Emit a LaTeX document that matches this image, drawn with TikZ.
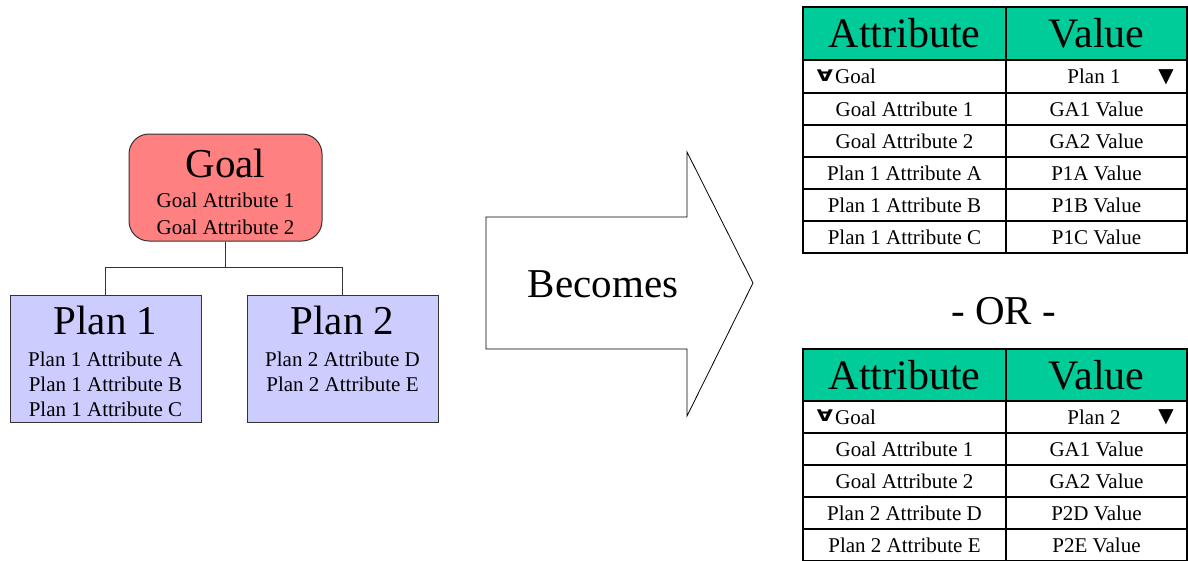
\documentclass[tikz,border=0pt]{standalone}
\usepackage{fontspec}
\setmainfont{Liberation Serif}
\newfontfamily\symfont{DejaVu Sans}
\definecolor{goalred}{RGB}{255,128,128}
\definecolor{planblue}{RGB}{204,204,255}
\definecolor{headgreen}{RGB}{0,204,153}
\tikzstyle{box}=[draw=black!80, line width=1pt, inner sep=0pt]
\tikzstyle{goalbox}=[box, fill=goalred, rounded corners=20pt, minimum width=193pt, minimum height=107pt]
\tikzstyle{planbox}=[box, fill=planblue, minimum width=191pt, minimum height=127pt]
\tikzstyle{big}=[inner sep=0pt, font=\fontsize{41}{41}\selectfont]
\tikzstyle{small}=[inner sep=0pt, font=\fontsize{21}{21}\selectfont]
\tikzstyle{cell}=[draw, line width=1.6pt, inner sep=0pt, minimum height=32pt, font=\fontsize{21}{21}\selectfont]
\tikzstyle{acell}=[cell, minimum width=203pt]
\tikzstyle{vcell}=[cell, minimum width=181pt]
\tikzstyle{headcell}=[fill=headgreen, minimum height=53pt, font=\fontsize{42}{42}\selectfont]
\tikzstyle{pick}=[inner sep=0pt, font=\fontsize{20}{20}\selectfont\symfont]
\tikzstyle{fold}=[inner sep=0pt, font=\fontsize{16}{16}\selectfont\symfont\bfseries]

\begin{document}
\begin{tikzpicture}[x=1pt, y=-1pt]
    \useasboundingbox (0,0) rectangle (1188,560);
    % tree
    \node[goalbox] (goal) at (225.5, 187.5) {};
    \node[big] (goaltitle) at (225.5, 163) {Goal};
    \node[small] (goala1) at (225.5, 200) {Goal Attribute 1};
    \node[small] (goala2) at (225.5, 227) {Goal Attribute 2};
    \node[planbox] (plan1) at (105.5, 358.5) {};
    \node[big] (plan1title) at (105.5, 320.5) {Plan 1};
    \node[small] (plan1a) at (105.5, 359.5) {Plan 1 Attribute A};
    \node[small] (plan1b) at (105.5, 384.5) {Plan 1 Attribute B};
    \node[small] (plan1c) at (105.5, 409.5) {Plan 1 Attribute C};
    \node[planbox] (plan2) at (342.5, 358.5) {};
    \node[big] (plan2title) at (342.5, 320.5) {Plan 2};
    \node[small] (plan2d) at (342.5, 359.5) {Plan 2 Attribute D};
    \node[small] (plan2e) at (342.5, 384.5) {Plan 2 Attribute E};
    \draw[black!80, line width=1pt] (goal.south) -- ++(0, 26) -| (plan1.north);
    \draw[black!80, line width=1pt] (goal.south) -- ++(0, 26) -| (plan2.north);
    % arrow
    \draw[line width=0.8pt] (486, 217) -- (687, 217) -- (687, 152) -- (753, 283)
        -- (687, 416) -- (687, 349) -- (486, 349) -- cycle;
    \node[big] (becomes) at (603, 284) {Becomes};
    % first table
    \node[acell, headcell] (t1head) at (904.5, 33.5) {Attribute};
    \node[vcell, headcell] (t1headv) at (1096.5, 33.5) {Value};
    \node[acell, minimum height=33pt] (t1goal) at (904.5, 76.5) {};
    \node[vcell, minimum height=33pt] (t1goalv) at (1096.5, 76.5) {};
    \node[fold] (t1fold) at (825, 75.5) {\scalebox{1.3}[1]{∀}};
    \node[small, anchor=west] (t1goaltext) at (835, 76.5) {Goal};
    \node[small] (t1plan) at (1094, 76.5) {Plan 1};
    \node[pick] (t1pick) at (1166, 77.5) {▼};
    \foreach \row/\attr/\val in {0/Goal Attribute 1/GA1 Value, 1/Goal Attribute 2/GA2 Value,
        2/Plan 1 Attribute A/P1A Value, 3/Plan 1 Attribute B/P1B Value, 4/Plan 1 Attribute C/P1C Value} {
        \node[acell] (t1a\row) at (904.5, {109+32*\row}) {\attr};
        \node[vcell] (t1v\row) at (1096.5, {109+32*\row}) {\val};
    }
    \node[big] (or) at (1003.5, 311) {- OR -};
    % second table
    \node[acell, headcell, minimum height=52pt] (t2head) at (904.5, 375) {Attribute};
    \node[vcell, headcell, minimum height=52pt] (t2headv) at (1096.5, 375) {Value};
    \node[acell] (t2goal) at (904.5, 417) {};
    \node[vcell] (t2goalv) at (1096.5, 417) {};
    \node[fold] (t2fold) at (825, 416) {\scalebox{1.3}[1]{∀}};
    \node[small, anchor=west] (t2goaltext) at (835, 417) {Goal};
    \node[small] (t2plan) at (1094, 417) {Plan 2};
    \node[pick] (t2pick) at (1166, 417.5) {▼};
    \foreach \row/\attr/\val in {0/Goal Attribute 1/GA1 Value, 1/Goal Attribute 2/GA2 Value,
        2/Plan 2 Attribute D/P2D Value, 3/Plan 2 Attribute E/P2E Value} {
        \node[acell] (t2a\row) at (904.5, {449+32*\row}) {\attr};
        \node[vcell] (t2v\row) at (1096.5, {449+32*\row}) {\val};
    }
\end{tikzpicture}
\end{document}
